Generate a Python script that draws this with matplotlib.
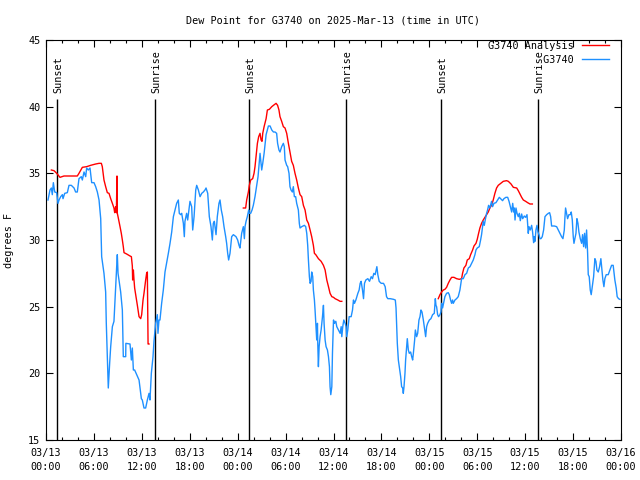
#!/usr/bin/env python3
"""
Dew point time series for station G3740 (obs vs analysis), gnuplot-like look.
x = hours since 2025-03-13 00:00 UTC, y = dew point (degrees F).
"""
import matplotlib
matplotlib.use("Agg")
import matplotlib.pyplot as plt

STATION = "G3740"
TITLE = "Dew Point for G3740 on 2025-Mar-13 (time in UTC)"
YLABEL = "degrees F"

# tick labels every 6 h across 72 h
XTICK_HOURS = [0, 6, 12, 18, 24, 30, 36, 42, 48, 54, 60, 66, 72]
XTICK_LABELS = ["03/13\n00:00", "03/13\n06:00", "03/13\n12:00", "03/13\n18:00",
                "03/14\n00:00", "03/14\n06:00", "03/14\n12:00", "03/14\n18:00",
                "03/15\n00:00", "03/15\n06:00", "03/15\n12:00", "03/15\n18:00",
                "03/16\n00:00"]
YTICKS = [15, 20, 25, 30, 35, 40, 45]

SUNSET_HOURS = [1.42, 25.46, 49.50]
SUNRISE_HOURS = [13.65, 37.61, 61.65]

obs_hours = [
    0.25, 0.50, 0.67, 0.79, 0.92, 1.09, 1.34, 1.50, 1.63, 1.84, 2.05, 2.13, 2.34, 2.67, 2.88,
    3.17, 3.51, 3.71, 3.92, 4.13, 4.42, 4.55, 4.76, 4.97, 5.09, 5.30, 5.51, 5.72, 6.01, 6.22,
    6.43, 6.64, 6.85, 6.97, 7.26, 7.47, 7.55, 7.68, 7.80, 7.97, 8.10, 8.31, 8.51, 8.72, 8.85,
    8.93, 9.02, 9.14, 9.35, 9.56, 9.68, 9.98, 10.00, 10.52, 10.69, 10.81, 10.94, 11.10, 11.35,
    11.65, 11.77, 11.94, 12.06, 12.27, 12.48, 12.69, 12.90, 13.02, 13.19, 13.40, 13.52, 13.73,
    13.94, 14.02, 14.15,
    14.27, 14.48, 14.69, 14.90, 15.10, 15.32, 15.53, 15.74, 15.95, 16.16, 16.36, 16.57, 16.69,
    16.86, 16.99, 17.20, 17.32, 17.40, 17.61, 17.74, 17.82, 18.03, 18.24, 18.37, 18.54, 18.75,
    18.87, 19.08, 19.29, 19.50, 19.70, 19.91, 20.04, 20.25, 20.45, 20.66, 20.83, 20.95, 21.08,
    21.29, 21.45, 21.66, 21.79, 21.95, 22.12, 22.29, 22.50, 22.62, 22.75, 22.87, 23.04, 23.25,
    23.46, 23.79, 24.00, 24.17, 24.29, 24.50, 24.71, 24.84, 24.92, 25.05, 25.21, 25.38, 25.46,
    25.63, 25.80, 25.96, 26.17, 26.38, 26.55, 26.72, 26.80, 26.93, 27.01, 27.14, 27.31, 27.56,
    27.72, 27.85, 28.06, 28.27, 28.48,
    28.68, 28.88, 29.00, 29.17, 29.30, 29.51, 29.72, 29.84, 29.93, 30.14, 30.26, 30.43, 30.55,
    30.68, 30.85, 30.97, 31.10, 31.26, 31.39, 31.60, 31.72, 31.81, 32.02, 32.35, 32.52, 32.65,
    32.77, 32.86, 32.98, 33.07, 33.19, 33.27, 33.40, 33.48, 33.61, 33.69, 33.78, 33.90, 33.99,
    34.03, 34.11, 34.20, 34.32, 34.45, 34.62, 34.74, 34.82, 34.95, 35.07, 35.24, 35.37, 35.49,
    35.57, 35.66, 35.79, 35.87, 36.00, 36.12, 36.29, 36.41, 36.62, 36.83, 36.96, 37.04, 37.16,
    37.29, 37.46, 37.58, 37.66, 37.79, 37.96, 38.21, 38.38, 38.50, 38.63, 38.80, 39.05, 39.21,
    39.34, 39.46, 39.63, 39.76, 39.88, 40.05, 40.30, 40.51, 40.72, 40.88, 41.05, 41.22, 41.43,
    41.55, 41.72, 41.97, 42.26, 42.47, 42.64, 42.80, 43.10, 43.52,
    43.74, 43.83, 43.91, 43.99, 44.12, 44.24, 44.41, 44.53, 44.66, 44.74, 44.83, 44.95, 45.03,
    45.16, 45.24, 45.37, 45.49, 45.66, 45.79, 45.91, 46.00, 46.16, 46.25, 46.41, 46.54, 46.70,
    46.83, 46.95, 47.08, 47.25, 47.37, 47.54, 47.66, 47.79, 48.00, 48.20, 48.41, 48.62, 48.75,
    48.83, 48.91, 49.04, 49.16, 49.33, 49.45, 49.54, 49.66, 49.83, 49.95, 50.16, 50.37, 50.50,
    50.66, 50.79, 50.91, 51.00, 51.21, 51.41, 51.62, 51.83, 51.96, 52.04, 52.25, 52.46, 52.67,
    52.88, 53.09, 53.29, 53.50, 53.71, 53.84, 54.00, 54.25, 54.42, 54.54, 54.67, 54.75, 54.88,
    55.00, 55.17, 55.29, 55.42, 55.58, 55.79, 55.92, 56.09, 56.34, 56.55, 56.76, 56.92, 57.17,
    57.34,
    57.59, 57.81, 57.98, 58.10, 58.23, 58.31, 58.44, 58.56, 58.64, 58.73, 58.85, 58.98, 59.14,
    59.27, 59.39, 59.56, 59.69, 59.89, 60.06, 60.23, 60.39, 60.48, 60.64, 60.81, 60.93, 61.06,
    61.14, 61.23, 61.35, 61.48, 61.60, 61.73, 61.85, 61.98, 62.14, 62.31, 62.48, 62.69, 62.90,
    63.06, 63.19, 63.31, 63.65, 63.94, 64.15, 64.36, 64.56, 64.73, 64.90, 64.98, 65.06, 65.19,
    65.31, 65.48, 65.65, 65.77, 65.90, 66.02, 66.11, 66.23, 66.36, 66.48, 66.61, 66.73, 66.90,
    67.07, 67.19, 67.32, 67.44, 67.57, 67.69, 67.82, 67.90, 68.02, 68.15, 68.27, 68.40, 68.57,
    68.73, 68.86, 68.98, 69.15, 69.32, 69.48, 69.61, 69.73, 69.86, 69.98, 70.15, 70.40, 70.61,
    70.82, 71.02, 71.23, 71.40, 71.52, 71.69, 71.86,
]
obs_dewpt = [
    33.0, 33.75, 33.9, 33.4, 34.3, 33.6, 33.55, 32.75, 33.0, 33.25, 33.4, 33.1, 33.5, 33.55, 34.1,
    34.1, 33.9, 33.6, 33.6, 34.6, 34.75, 34.5, 35.1, 34.75, 35.4, 35.25, 35.4, 34.3, 34.3, 34.0,
    33.6, 33.0, 31.6, 28.75, 27.5, 26.1, 23.75, 21.1, 18.9, 20.75, 22.0, 23.5, 23.9, 26.5, 28.0,
    28.9, 27.5, 27.0, 26.1, 24.75, 21.25, 21.25, 22.25, 22.2, 21.0, 21.9, 20.25, 20.25, 19.9,
    19.5, 18.9, 18.1, 18.0, 17.4, 17.4, 18.0, 18.5, 18.0, 20.0, 21.25, 22.4, 23.75,
    24.4, 23.0, 24.0,
    24.0, 25.25, 26.25, 27.6, 28.25, 29.0, 29.75, 30.6, 31.75, 32.25, 32.75, 33.0, 32.0,
    31.9, 32.0, 31.25, 30.25, 31.4, 32.0, 31.5, 31.9, 32.9, 32.5, 30.75, 31.75, 33.75,
    34.1, 33.75, 33.25, 33.5, 33.6, 33.75, 33.9, 33.5, 31.75, 31.0, 30.0, 31.25, 31.4,
    30.4, 31.75, 32.75, 33.0, 32.25, 31.75, 31.0, 30.25, 29.75, 29.0, 28.5, 29.0, 30.25,
    30.4, 30.25, 30.0, 29.6, 29.4, 30.5, 31.0, 30.1, 31.0, 31.4, 31.75, 32.25, 32.0,
    32.0, 32.25, 32.6, 33.25, 34.1, 34.75, 36.0, 36.5, 35.75, 35.25, 35.75, 36.5, 37.9,
    38.25, 38.55, 38.55, 38.25, 38.1,
    38.1, 38.0, 37.25, 36.75, 36.6, 37.0, 37.25, 37.0, 36.0, 35.6, 35.5, 35.0, 34.0,
    33.75, 33.6, 34.0, 33.25, 33.25, 32.75, 32.25, 31.25, 30.9, 31.0, 31.1, 31.0, 30.5,
    29.6, 28.5, 27.25, 26.75, 26.9, 27.6, 27.25, 26.25, 25.5, 24.75, 23.75, 22.5, 23.75,
    22.25, 20.5, 22.0, 22.75, 23.25, 24.25, 25.1, 23.75, 22.5, 22.0, 21.75, 21.25, 20.5,
    19.0, 18.4, 19.0, 21.5, 24.0, 23.75, 23.9, 23.5, 23.25, 23.0, 23.5, 22.75, 23.5,
    24.0, 23.75, 23.5, 22.75, 23.25, 24.25, 24.25, 24.75, 25.5, 25.25, 25.5, 26.0, 26.25,
    26.75, 26.9, 26.25, 25.6, 26.75, 27.0, 27.1, 26.9, 27.25, 27.1, 27.5, 27.4, 28.0,
    27.4, 26.9, 26.75, 26.75, 26.5, 25.75, 25.6, 25.6, 25.55,
    25.5, 24.9, 23.5, 22.25, 21.0, 20.5, 19.75, 19.0, 18.9, 18.5, 19.0, 20.0, 21.0,
    22.0, 22.6, 21.75, 21.5, 21.6, 21.25, 21.0, 21.5, 22.5, 23.25, 22.75, 23.0, 24.0,
    24.25, 24.75, 24.6, 24.0, 23.5, 22.75, 23.5, 23.75, 24.0, 24.1, 24.4, 24.5, 25.6,
    25.1, 25.0, 24.4, 24.25, 24.4, 24.6, 25.25, 24.9, 25.4, 25.75, 26.0, 26.05, 25.9,
    25.5, 25.25, 25.5, 25.25, 25.5, 25.6, 25.75, 26.25, 26.75, 27.1, 27.1, 27.4, 27.5,
    27.9, 28.0, 28.25, 28.5, 28.9, 29.25, 29.4, 29.5, 30.0, 30.4, 31.0, 31.4, 31.1,
    31.5, 32.0, 32.25, 32.6, 32.4, 32.9, 32.5, 32.75, 32.8, 33.0, 33.2, 33.1, 32.95,
    33.1,
    33.2, 33.2, 32.9, 32.6, 32.25, 32.1, 32.75, 32.1, 32.4, 31.5, 32.4, 32.0, 31.75,
    32.0, 31.45, 31.95, 31.6, 31.8, 31.7, 31.9, 30.5, 31.0, 30.75, 31.1, 30.6, 29.8,
    30.25, 29.9, 30.75, 31.1, 30.6, 30.4, 30.1, 30.1, 30.25, 30.75, 31.75, 31.9, 32.0,
    32.05, 31.75, 31.05, 31.05, 31.0, 30.75, 30.5, 30.25, 30.1, 30.75, 31.7, 32.4, 32.0,
    31.6, 31.9, 31.9, 32.1, 31.5, 30.25, 29.75, 30.1, 30.5, 31.6, 31.25, 30.6, 30.1,
    29.75, 30.4, 29.5, 30.5, 29.4, 30.75, 29.0, 27.4, 27.25, 26.25, 25.9, 26.5, 27.25,
    28.6, 28.4, 27.75, 27.6, 28.0, 28.6, 27.75, 27.0, 26.5, 27.1, 27.4, 27.4, 27.75,
    28.1, 28.1, 27.0, 26.4, 25.75, 25.6, 25.55,
]

# analysis dew point: three separate runs (gaps between them)
ana_hours_1 = [0.67, 1.0, 1.34, 1.75, 2.25, 3.92, 4.13, 4.55, 5.09, 5.59, 6.22, 6.64, 6.93, 7.05,
               7.26, 7.47, 7.68, 7.89, 8.1, 8.31, 8.51, 8.6, 8.72, 8.81, 8.89, 8.93, 9.02, 9.27,
               9.43, 9.56, 9.68, 9.77, 10.1, 10.52, 10.69, 10.81, 10.85, 10.94, 11.02, 11.1,
               11.23, 11.44, 11.65, 11.86, 11.98, 12.15, 12.27, 12.48, 12.6, 12.69, 12.78, 12.9]
ana_dewpt_1 = [35.25, 35.2, 35.0, 34.7, 34.8, 34.8, 35.0, 35.45, 35.5, 35.6, 35.7, 35.75, 35.75,
               35.5, 34.5, 34.0, 33.55, 33.5, 33.1, 32.75, 32.4, 32.05, 32.5, 32.05, 34.8, 32.0,
               31.75, 31.0, 30.5, 30.0, 29.5, 29.05, 28.95, 28.8, 28.75, 28.05, 27.0, 27.75, 27.0,
               26.4, 25.9, 25.1, 24.25, 24.1, 24.4, 25.5, 26.0, 27.0, 27.5, 27.6, 22.2, 22.2]
ana_hours_2 = [24.71, 25.0, 25.13, 25.34, 25.46, 25.63, 25.88, 26.05, 26.17, 26.3, 26.47, 26.63,
               26.8, 26.93, 27.05, 27.14, 27.31, 27.56, 27.72, 27.97, 28.27, 28.48, 28.81, 29.0,
               29.17, 29.3, 29.51, 29.72, 29.93, 30.14, 30.35, 30.55, 30.76, 30.97, 31.18, 31.39,
               31.6, 31.81, 32.02, 32.23, 32.44, 32.65, 32.86, 33.07, 33.27, 33.48, 33.61, 33.78,
               34.11, 34.45, 34.74, 34.95, 35.16, 35.37, 35.57, 35.79, 36.0, 36.2, 36.54, 36.83,
               37.04]
ana_dewpt_2 = [32.4, 32.4, 33.0, 33.6, 34.1, 34.5, 34.6, 35.0, 35.5, 36.25, 37.25, 37.75, 38.0,
               37.5, 37.4, 38.0, 38.5, 39.1, 39.75, 39.8, 40.0, 40.1, 40.25, 40.1, 39.75, 39.25,
               38.9, 38.5, 38.4, 38.0, 37.25, 36.6, 35.9, 35.6, 35.0, 34.5, 33.9, 33.4, 33.25,
               32.6, 32.25, 31.5, 31.25, 30.75, 30.25, 29.6, 29.0, 28.9, 28.6, 28.4, 28.1, 27.75,
               27.0, 26.5, 26.0, 25.75, 25.7, 25.6, 25.5, 25.4, 25.4]
ana_hours_3 = [49.12, 49.33, 49.54, 49.75, 49.95, 50.16, 50.37, 50.58, 50.79, 51.08, 51.41, 51.75,
               52.04, 52.16, 52.33, 52.58, 52.75, 53.0, 53.17, 53.42, 53.59, 53.84, 54.0, 54.13,
               54.33, 54.54, 54.75, 54.96, 55.17, 55.38, 55.58, 55.79, 56.0, 56.21, 56.42, 56.63,
               56.84, 57.26, 57.67, 57.89, 58.23, 58.52, 58.94, 59.14, 59.35, 59.56, 59.77, 60.06,
               60.31, 60.6, 60.9]
ana_dewpt_3 = [25.6, 25.9, 26.1, 26.25, 26.3, 26.45, 26.75, 27.0, 27.2, 27.2, 27.1, 27.05, 27.1,
               27.5, 27.9, 28.1, 28.5, 28.6, 28.9, 29.25, 29.55, 29.75, 30.05, 30.4, 30.9, 31.25,
               31.5, 31.7, 31.9, 32.1, 32.4, 32.6, 33.0, 33.5, 33.9, 34.1, 34.2, 34.4, 34.45, 34.4,
               34.2, 33.95, 33.9, 33.7, 33.45, 33.2, 33.0, 32.9, 32.8, 32.7, 32.7]

FONT = "DejaVu Sans Mono"
FS = 7.3
RED = "#ff0000"
BLUE = "#1e90ff"


def main():
    plt.rcParams["font.family"] = FONT
    plt.rcParams["font.size"] = FS

    fig = plt.figure(figsize=(6.4, 4.8), dpi=100)
    ax = fig.add_axes([46 / 640, 40 / 480, 575 / 640, 400 / 480])

    # analysis first so it is listed first in the key
    ax.plot(ana_hours_1, ana_dewpt_1, color=RED, lw=1.0, label=f"{STATION} Analysis")
    ax.plot(ana_hours_2, ana_dewpt_2, color=RED, lw=1.0)
    ax.plot(ana_hours_3, ana_dewpt_3, color=RED, lw=1.0)
    ax.plot(obs_hours, obs_dewpt, color=BLUE, lw=1.0, label=STATION.rjust(14))

    # sunrise / sunset markers
    for hrs, name in ((SUNSET_HOURS, "Sunset"), (SUNRISE_HOURS, "Sunrise")):
        for h in hrs:
            ax.vlines(h, 15, 40.6, color="black", lw=1.0, zorder=1)
            ax.text(h + 0.15, 41.0, name, rotation=90, ha="center", va="bottom", fontsize=FS)

    ax.set_xlim(0, 72)
    ax.set_ylim(15, 45)
    ax.set_xticks(XTICK_HOURS)
    ax.set_xticklabels(XTICK_LABELS, linespacing=1.4)
    ax.set_xticks(range(0, 73, 2), minor=True)
    ax.set_yticks(YTICKS)
    ax.tick_params(which="both", direction="in", top=True, right=True, labelsize=FS)
    ax.tick_params(which="major", length=5, width=0.8)
    ax.tick_params(which="minor", length=2.5, width=0.8)
    ax.tick_params(axis="x", pad=6)
    ax.tick_params(axis="y", pad=4)
    for s in ax.spines.values():
        s.set_linewidth(0.8)

    ax.set_title(TITLE, fontsize=FS, pad=12)
    ax.set_ylabel(YLABEL, fontsize=FS)
    ax.yaxis.set_label_coords(-0.056, 0.5)

    ax.legend(loc="upper right", bbox_to_anchor=((609 - 46) / 575, (440 - 41) / 400),
              frameon=False, markerfirst=False, fontsize=FS, borderpad=0,
              borderaxespad=0, handlelength=2.7, handletextpad=0.8, labelspacing=0.35)

    fig.savefig("out.png", dpi=100)


if __name__ == "__main__":
    main()
